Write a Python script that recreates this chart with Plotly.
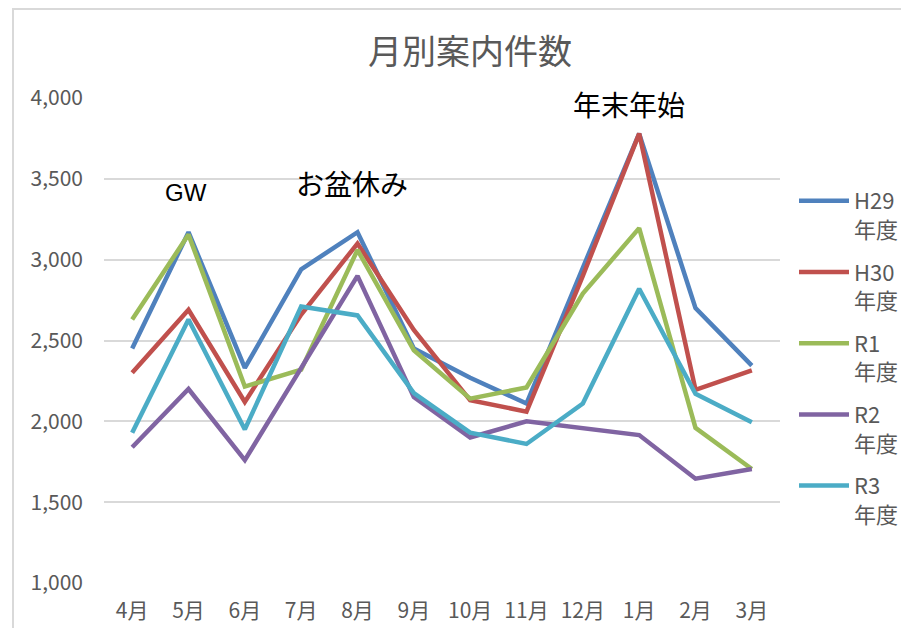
import plotly.graph_objects as go

months = ["4月", "5月", "6月", "7月", "8月", "9月", "10月", "11月", "12月", "1月", "2月", "3月"]
series_names = ["H29<br>年度", "H30<br>年度", "R1<br>年度", "R2<br>年度", "R3<br>年度"]
h29 = [2450, 3170, 2330, 2940, 3170, 2450, 2270, 2110, 2950, 3780, 2700, 2345]
h30 = [2300, 2690, 2120, 2660, 3100, 2565, 2130, 2060, 2900, 3780, 2195, 2315]
r1 = [2630, 3155, 2215, 2320, 3060, 2440, 2140, 2210, 2790, 3195, 1960, 1705]
r2 = [1840, 2200, 1760, 2330, 2900, 2150, 1900, 2000, 1960, 1915, 1645, 1705]
r3 = [1930, 2630, 1950, 2710, 2655, 2175, 1930, 1860, 2110, 2820, 2170, 1995]
colors = ["#4F81BD", "#C0504D", "#9BBB59", "#8064A2", "#4BACC6"]
y_ticks = [1000, 1500, 2000, 2500, 3000, 3500, 4000]
notes = [("GW", 1, 3418, -3), ("お盆休み", 4, 3474, -6), ("年末年始", 9, 3963, -10)]

# page body has an 8px margin; work in figure coordinates
OFF = 8
W, H = 909 - OFF, 628 - OFF
L, T = 104 - OFF, 98 - OFF
pw, ph = 676, 485
R, B = W - L - pw, H - T - ph

def px(x):
    return (x - OFF - L) / pw

def py(y):
    return (T + ph - (y - OFF)) / ph

fig = go.Figure()
for name, vals, c in zip(series_names, [h29, h30, r1, r2, r3], colors):
    fig.add_trace(go.Scatter(x=months, y=vals, name=name, mode="lines", legendgroup=name,
                             line=dict(color=c, width=4.5)))

font_main = "Noto Sans CJK JP, sans-serif"
for txt, xi, yv, xs in notes:
    fig.add_annotation(x=months[xi], y=yv, text=txt, showarrow=False, xshift=xs,
                       font=dict(family=font_main if txt != "GW" else "Liberation Sans, Arial",
                                 size=28 if txt != "GW" else 24, color="#000000"))

fig.update_layout(
    width=W, height=H,
    margin=dict(l=L, r=R, t=T, b=B, autoexpand=False),
    paper_bgcolor="white", plot_bgcolor="white",
    title=dict(text="月別案内件数", x=(470 - OFF) / W, xanchor="center",
               y=1 - (52 - OFF) / H, yanchor="middle",
               font=dict(family=font_main, size=34, color="#595959")),
    xaxis=dict(showgrid=False, showline=False, zeroline=False, ticks="",
               tickfont=dict(family=font_main, size=21, color="#595959"),
               range=[-0.5, 11.5], ticklabelstandoff=13),
    yaxis=dict(range=[1000, 4000], tickvals=y_ticks, tickformat=",",
               showgrid=True, gridcolor="#D9D9D9", gridwidth=2, zeroline=False,
               showline=False, ticks="", ticklabelstandoff=20,
               tickfont=dict(family=font_main, size=21, color="#595959")),
    legend=dict(x=px(794), y=py(180), xanchor="left", yanchor="top",
                font=dict(family=font_main, size=22, color="#595959"),
                tracegroupgap=11, itemwidth=50, valign="top"),
    showlegend=True,
    shapes=[
        dict(type="rect", xref="paper", yref="paper",
             x0=px(13), x1=px(940), y0=py(660), y1=py(9),
             line=dict(color="#D9D9D9", width=2), layer="below"),
    ],
)

fig.write_html("out.html")
